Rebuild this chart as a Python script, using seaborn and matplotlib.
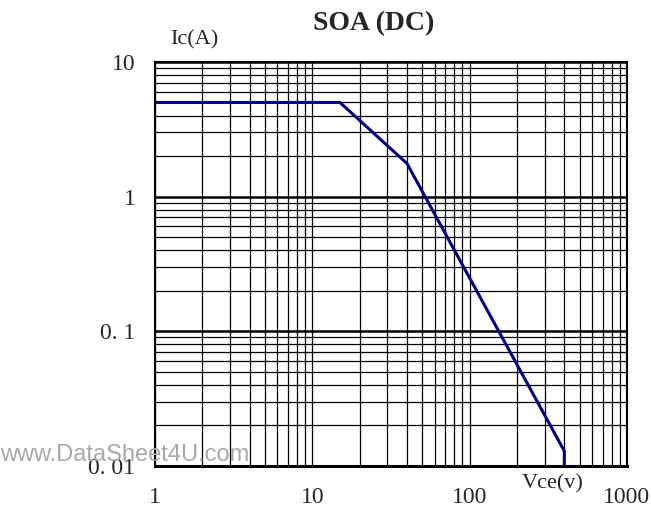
import numpy as np
import pandas as pd
import matplotlib
matplotlib.use("Agg")
import matplotlib.pyplot as plt
import seaborn as sns
from matplotlib.ticker import LogLocator, NullFormatter, FixedLocator

sns.set_theme(style="white")
plt.rcParams["font.family"] = ["Liberation Serif", "DejaVu Serif"]

# SOA curve (DC)
vce = [1, 15, 40, 400, 400]
ic = [5, 5, 1.76, 0.0129, 0.01]

x_ticks = [1, 10, 100, 1000]
x_labels = ["1", "10", "100", "1000"]
y_ticks = [0.01, 0.1, 1, 10]
y_labels = ["0. 01", "0. 1", "1", "10"]

df = pd.DataFrame({"Vce": vce, "Ic": ic})

fig = plt.figure(figsize=(6.51, 5.16), dpi=100)
ax = fig.add_axes([0.238, 0.097, 0.725, 0.783])
ax.set_xscale("log")
ax.set_yscale("log")
ax.set_xlim(1, 1000)
ax.set_ylim(0.01, 10)

# grid: every minor decade line, thicker horizontal majors
ax.xaxis.set_minor_locator(LogLocator(base=10, subs=np.arange(2, 10)))
ax.yaxis.set_minor_locator(LogLocator(base=10, subs=np.arange(2, 10)))
ax.xaxis.set_minor_formatter(NullFormatter())
ax.yaxis.set_minor_formatter(NullFormatter())
ax.grid(which="minor", axis="both", color="black", linewidth=0.9)
ax.grid(which="major", axis="x", color="black", linewidth=0.9)
ax.grid(which="major", axis="y", color="black", linewidth=1.8)
ax.set_axisbelow(True)

sns.lineplot(data=df, x="Vce", y="Ic", color="#00008b", linewidth=2.2,
             sort=False, estimator=None, ax=ax, zorder=5)

ax.xaxis.set_major_locator(FixedLocator(x_ticks))
ax.set_xticklabels(x_labels)
ax.yaxis.set_major_locator(FixedLocator(y_ticks))
ax.set_yticklabels(y_labels)
ax.tick_params(axis="x", which="both", length=0, pad=15, labelsize=17)
ax.tick_params(axis="y", which="both", length=0, pad=14, labelsize=17)
ax.set_xlabel("")
ax.set_ylabel("")

for s in ax.spines.values():
    s.set_color("black")
    s.set_linewidth(1.5)
ax.spines["bottom"].set_linewidth(2.2)

fig.text(0.574, 0.955, "SOA (DC)", ha="center", va="center",
         fontsize=20, fontweight="bold")
fig.text(0.298, 0.922, "Ic(A)", ha="center", va="center", fontsize=16)
fig.text(0.849, 0.062, "Vce(v)", ha="center", va="center", fontsize=16)
fig.text(0.0, 0.118, "www.DataSheet4U.com", ha="left", va="center",
         fontsize=17, color="#a8a8a8", family=["Liberation Sans", "DejaVu Sans"])

fig.savefig("out.png", dpi=100)
